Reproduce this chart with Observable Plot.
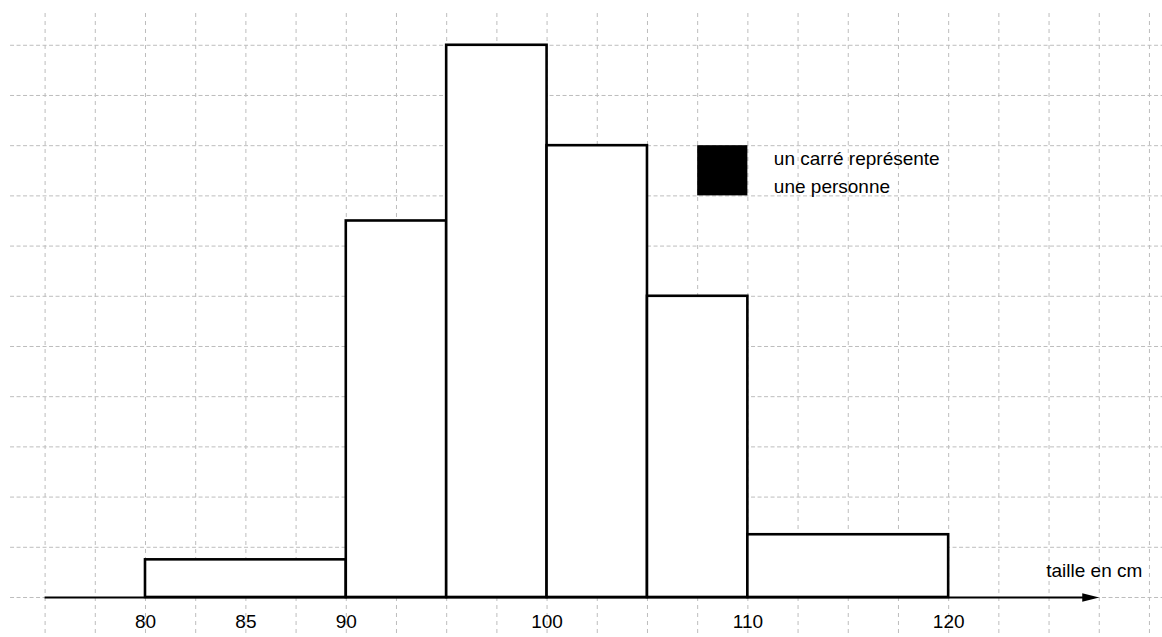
<!DOCTYPE html>
<html>
<head>
<meta charset="utf-8">
<script src="https://cdn.jsdelivr.net/npm/d3@7"></script>
<script src="https://cdn.jsdelivr.net/npm/@observablehq/plot@0.6"></script>
<style>
  html, body { margin: 0; padding: 0; background: #fff; }
  #chart svg { display: block; }
</style>
</head>
<body>
<div id="chart"></div>
<script>
// Histogram classes (cm) and number of persons
const binStarts = [80, 90, 95, 100, 105, 110];
const binEnds   = [90, 95, 100, 105, 110, 120];
const persons   = [3, 15, 22, 18, 12, 5];
// tick labels on the horizontal axis
const tickLabels = [80, 85, 90, 100, 110, 120];
// legend and axis title
const legendLines = ["un carré représente", "une personne"];
const axisTitle = "taille en cm";
// grid: one square = 2.5 cm wide, 1 unit high = 1 person
const squareWidth = 2.5;
const gridX = d3.range(75, 130.01, squareWidth);
const gridY = d3.range(0, 11.01, 1);
const axisStart = 75, axisEnd = 127.5;
const legendSquare = [{x1: 107.5, x2: 110, y1: 8, y2: 9}];

const bins = binStarts.map((s, i) => ({
  lo: s, hi: binEnds[i], n: persons[i],
  h: persons[i] / ((binEnds[i] - s) / squareWidth)
}));

const arrowHead = {
  draw(ctx) {
    ctx.moveTo(0, 0);
    ctx.lineTo(-17, -4.2);
    ctx.lineTo(-17, 4.2);
    ctx.closePath();
  }
};

const font = "'Liberation Sans', Arial, Helvetica, sans-serif";
const gridColor = "#bdbdbd";

const chart = Plot.plot({
  width: 1162,
  height: 637,
  margin: 0,
  style: {fontFamily: font, fontSize: "19px", background: "white", color: "black"},
  x: {domain: [72.779, 130.65], axis: null},
  y: {domain: [-0.797, 11.892], axis: null},
  marks: [
    Plot.ruleX(gridX, {x: d => d, y1: 11.633, y2: -0.797, stroke: gridColor, strokeWidth: 1, strokeDasharray: "4,4"}),
    Plot.ruleY(gridY, {y: d => d, x1: 73.28, x2: 130.65, stroke: gridColor, strokeWidth: 1, strokeDasharray: "4,2.5"}),
    Plot.rect(bins, {x1: "lo", x2: "hi", y1: 0, y2: "h", fill: "white", stroke: "black", strokeWidth: 2.6}),
    Plot.ruleY([0], {x1: axisStart, x2: axisEnd - 0.5, stroke: "black", strokeWidth: 2.2}),
    Plot.dot([axisEnd], {x: d => d, y: 0, symbol: arrowHead, fill: "black", stroke: "none", r: 5}),
    Plot.rect(legendSquare, {x1: "x1", x2: "x2", y1: "y1", y2: "y2", fill: "black"}),
    Plot.text([legendLines[0]], {x: 110, y: 9, text: d => d, dx: 26, dy: 13, textAnchor: "start", fontSize: 19, fill: "black"}),
    Plot.text([legendLines[1]], {x: 110, y: 9, text: d => d, dx: 26, dy: 41, textAnchor: "start", fontSize: 19, fill: "black"}),
    Plot.text(tickLabels, {x: d => d, y: 0, text: d => String(d), dy: 24, textAnchor: "middle", fontSize: 19, fill: "black"}),
    Plot.text([axisTitle], {x: axisEnd, y: 0, text: d => d, dx: -53, dy: -27, textAnchor: "start", fontSize: 19, fill: "black"})
  ]
});

document.getElementById("chart").appendChild(chart);
</script>
</body>
</html>
